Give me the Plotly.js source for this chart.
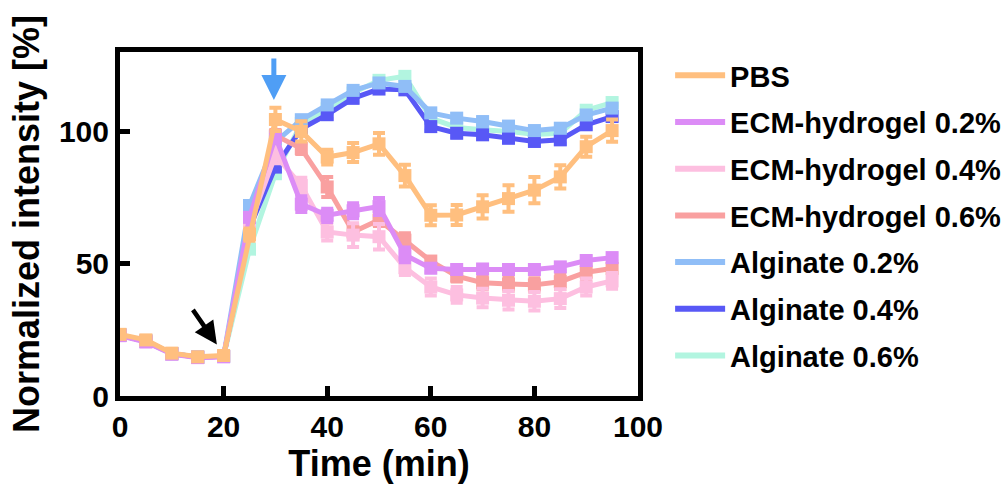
<!DOCTYPE html>
<html>
<head>
<meta charset="utf-8">
<script src="https://cdn.plot.ly/plotly-3.0.1.min.js"></script>
<style>
  html, body { margin: 0; padding: 0; background: #fff; }
  #chart { width: 1003px; height: 493px; }
</style>
</head>
<body>
<div id="chart"></div>
<script>
// ---- data ----
const time = [0, 5, 10, 15, 20, 25, 30, 35, 40, 45, 50, 55, 60, 65, 70, 75, 80, 85, 90, 95];

const seriesNames = ["PBS", "ECM-hydrogel 0.2%", "ECM-hydrogel 0.4%", "ECM-hydrogel 0.6%",
                     "Alginate 0.2%", "Alginate 0.4%", "Alginate 0.6%"];
const seriesColors = ["#FFBF7F", "#DC8CF6", "#FDBFE0", "#F9A0A0", "#90BEF7", "#5858F6", "#B2F5E0"];

const pbs      = [23.3, 21.2, 16.2, 14.8, 15.3, 61.0, 104.5, 100.0, 90.3, 92.0, 95.3, 83.3, 68.3, 68.4, 71.5, 74.6, 77.8, 82.8, 94.2, 100.3];
const pbsErr   = [0.8, 0.8, 0.6, 0.5, 0.5, 2.3, 4.4, 3.8, 2.8, 3.6, 4.1, 4.1, 3.8, 3.8, 4.4, 5.0, 5.0, 4.4, 3.8, 4.2];

const ecm02    = [22.8, 20.4, 15.8, 14.5, 14.8, 67.5, 98.0, 72.5, 68.3, 70.0, 71.6, 53.3, 48.3, 47.8, 48.0, 47.8, 47.8, 48.8, 51.2, 52.3];
const ecm02Err = [0.5, 0.5, 0.4, 0.4, 0.4, 1.5, 2.0, 3.0, 2.5, 2.8, 3.2, 2.8, 1.5, 1.5, 1.5, 1.5, 1.5, 1.5, 1.5, 1.5];

const ecm04    = [23.0, 20.8, 16.0, 14.7, 15.0, 64.5, 91.0, 79.5, 62.0, 60.8, 60.2, 48.5, 41.2, 38.2, 37.0, 36.2, 35.8, 36.8, 41.2, 43.5];
const ecm04Err = [0.5, 0.5, 0.4, 0.4, 0.4, 2.0, 3.0, 3.0, 3.2, 4.5, 4.8, 2.8, 3.2, 3.0, 3.5, 3.5, 3.5, 3.5, 3.2, 3.0];

const ecm06    = [23.0, 20.7, 16.0, 14.6, 15.0, 63.0, 98.5, 93.5, 79.0, 62.0, 66.5, 58.9, 51.0, 45.3, 42.8, 42.3, 42.0, 43.2, 46.8, 48.2];
const ecm06Err = [0.5, 0.5, 0.4, 0.4, 0.4, 1.5, 2.0, 2.0, 3.8, 2.5, 2.3, 2.6, 1.5, 2.0, 2.5, 2.5, 2.5, 2.8, 2.8, 2.6];

const alg02    = [23.0, 20.8, 16.0, 14.7, 15.0, 72.0, 96.0, 104.4, 110.0, 115.5, 118.3, 117.0, 107.0, 105.0, 103.7, 102.0, 100.3, 101.2, 106.2, 108.8];
const alg02Err = [0.5, 0.5, 0.4, 0.4, 0.4, 1.5, 1.5, 1.5, 1.5, 1.5, 1.5, 1.5, 1.5, 1.5, 1.5, 1.5, 1.5, 1.5, 1.5, 1.5];

const alg04    = [23.0, 20.7, 16.0, 14.7, 15.0, 63.5, 86.5, 101.0, 106.3, 112.5, 116.0, 115.7, 101.8, 99.3, 98.7, 97.4, 96.2, 96.8, 102.5, 105.6];
const alg04Err = [0.5, 0.5, 0.4, 0.4, 0.4, 1.5, 1.5, 1.5, 1.5, 1.5, 1.5, 1.5, 1.5, 1.5, 1.5, 1.5, 1.5, 1.5, 1.5, 1.5];

const alg06    = [23.0, 20.8, 16.0, 14.7, 15.0, 55.5, 84.0, 103.0, 108.5, 114.5, 119.3, 120.8, 105.0, 101.5, 100.6, 100.0, 98.8, 99.3, 108.0, 110.9];
const alg06Err = [0.5, 0.5, 0.4, 0.4, 0.4, 1.5, 1.5, 1.5, 1.5, 1.5, 1.5, 1.5, 1.5, 1.5, 1.5, 1.5, 1.5, 1.5, 1.5, 1.5];

const xTicks = [0, 20, 40, 60, 80, 100];
const yTicks = [0, 50, 100];

// ---- build traces ----
const values = [pbs, ecm02, ecm04, ecm06, alg02, alg04, alg06];
const errors = [pbsErr, ecm02Err, ecm04Err, ecm06Err, alg02Err, alg04Err, alg06Err];
const drawOrder = [6, 5, 4, 3, 2, 1, 0]; // PBS drawn last (on top)

const FONT = "Liberation Sans, Arial, Helvetica, sans-serif";
const traces = [];
drawOrder.forEach(i => {
  traces.push({
    x: time, y: values[i], type: "scatter", mode: "lines+markers",
    name: seriesNames[i], showlegend: false,
    line: { color: seriesColors[i], width: 5 },
    marker: { color: seriesColors[i], symbol: "square", size: 13 },
    error_y: { type: "data", array: errors[i], visible: true, color: seriesColors[i], thickness: 4, width: 6 }
  });
});
// legend entries (line only)
seriesNames.forEach((n, i) => {
  traces.push({
    x: [null], y: [null], type: "scatter", mode: "lines", name: n,
    legendgroup: "g" + i, showlegend: true,
    line: { color: seriesColors[i], width: 6 }
  });
});

const layout = {
  width: 1003, height: 493,
  paper_bgcolor: "#fff", plot_bgcolor: "#fff",
  margin: { l: 120, r: 365, t: 52, b: 97, autoexpand: false },
  font: { family: FONT, color: "#000", weight: "bold" },
  showlegend: true,
  legend: {
    x: 1.062, xanchor: "left", y: 1.006, yanchor: "top",
    font: { family: FONT, size: 29, color: "#000", weight: "bold" },
    tracegroupgap: 6, itemwidth: 50, bgcolor: "rgba(0,0,0,0)",
    maxheight: 480
  },
  xaxis: {
    range: [0, 100], tickvals: xTicks, ticktext: xTicks.map(String),
    ticks: "inside", ticklen: 10, tickwidth: 5, tickcolor: "#000",
    showline: true, linewidth: 5, linecolor: "#000", mirror: true,
    showgrid: false, zeroline: false,
    tickfont: { family: FONT, size: 30, weight: "bold" },
    title: { text: "Time (min)", font: { family: FONT, size: 36, weight: "bold" }, standoff: 6 }
  },
  yaxis: {
    range: [0, 130], tickvals: yTicks, ticktext: yTicks.map(String),
    ticks: "inside", ticklen: 10, tickwidth: 5, tickcolor: "#000",
    showline: true, linewidth: 5, linecolor: "#000", mirror: true,
    showgrid: false, zeroline: false,
    tickfont: { family: FONT, size: 30, weight: "bold" },
    title: { text: "Normalized intensity [%]", font: { family: FONT, size: 36, weight: "bold" }, standoff: 10 }
  },
  annotations: [
    { x: 29.7, y: 111.9, xref: "x", yref: "y", text: "", showarrow: true,
      ax: 0, ay: -43, arrowhead: 2, arrowsize: 1, arrowwidth: 5, arrowcolor: "#4F9EF5" },
    { x: 18.7, y: 19.5, xref: "x", yref: "y", text: "", showarrow: true,
      ax: -25, ay: -36, arrowhead: 2, arrowsize: 1, arrowwidth: 4.5, arrowcolor: "#000" }
  ]
};

Plotly.newPlot("chart", traces, layout, { displayModeBar: false, staticPlot: true });
</script>
</body>
</html>
